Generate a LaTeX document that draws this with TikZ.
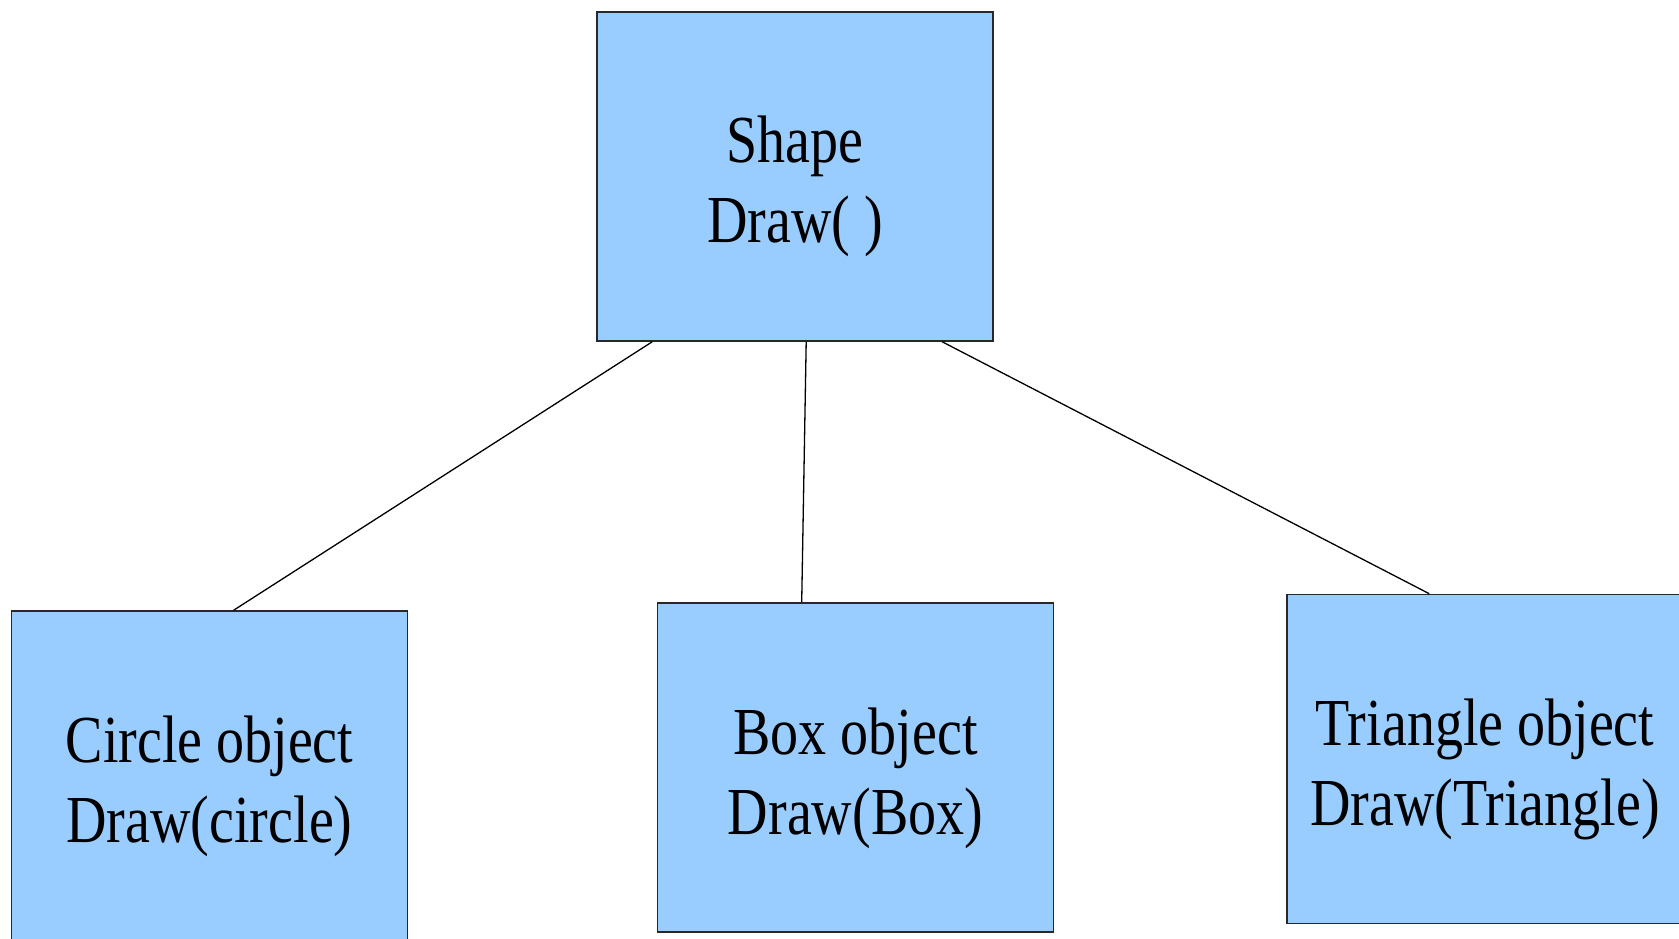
\documentclass[tikz,border=0pt]{standalone}
\usepackage{fontspec}
\setmainfont{Liberation Serif}
\definecolor{boxfill}{RGB}{153,204,255}
\definecolor{boxline}{RGB}{40,40,40}
\tikzset{
  classbox/.style={draw=boxline, line width=1.6pt, fill=boxfill, rectangle,
    minimum width=396pt, minimum height=329pt, inner sep=0pt},
  lbl/.style={inner sep=0pt, anchor=base, font=\fontsize{56}{67}\selectfont},
  link/.style={draw=black, line width=1.3pt}
}
\newcommand{\tall}[1]{\scalebox{1}[1.2]{#1}}
\begin{document}
\begin{tikzpicture}[x=1pt,y=1pt]
  \useasboundingbox (0,0) rectangle (1679,938);

  % boxes
  \node[classbox] (shape) at (795,761.5) {};
  \node[classbox] (circ)  at (209.5,162.5) {};
  \node[classbox] (boxo)  at (855.5,170.5) {};
  \node[classbox] (tri)   at (1485,179) {};

  % two-line labels
  \node[lbl] (shapeA) at ([yshift=13.5]shape.center) {\tall{Shape}};
  \node[lbl] (shapeB) at ([yshift=-66.5]shape.center) {\tall{Draw( )}};
  \node[lbl] (circA)  at ([yshift=13.5]circ.center) {\tall{Circle object}};
  \node[lbl] (circB)  at ([yshift=-66.5]circ.center) {\tall{Draw(circle)}};
  \node[lbl] (boxoA)  at ([yshift=13.5]boxo.center) {\tall{Box object}};
  \node[lbl] (boxoB)  at ([yshift=-66.5]boxo.center) {\tall{Draw(Box)}};
  \node[lbl] (triA)   at ([yshift=13.5]tri.center) {\tall{Triangle object}};
  \node[lbl] (triB)   at ([yshift=-66.5]tri.center) {\tall{Draw(Triangle)}};

  % connectors
  \draw[link] ([xshift=56]shape.south west) -- ([xshift=223]circ.north west);
  \draw[link] ([xshift=210]shape.south west) -- ([xshift=145]boxo.north west);
  \draw[link] ([xshift=346]shape.south west) -- ([xshift=143]tri.north west);
\end{tikzpicture}
\end{document}
